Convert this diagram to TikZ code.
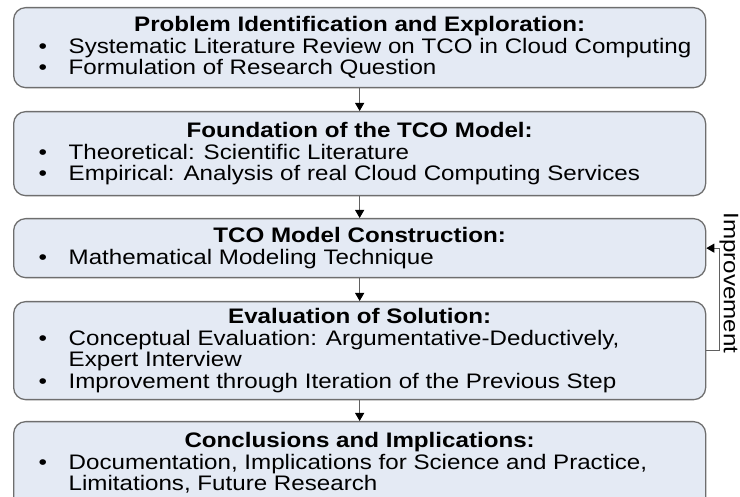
\documentclass[tikz,border=0pt]{standalone}
\usepackage{fontspec}
\setmainfont[FakeStretch=1.15]{Liberation Sans}
\usetikzlibrary{arrows.meta}
\definecolor{boxfill}{HTML}{E4EAF4}
\definecolor{boxline}{HTML}{6E6E6E}
\definecolor{conline}{HTML}{606060}
\newcommand\ttl[1]{\makebox[692pt][c]{\bfseries #1}}
\newcommand\bl[1]{\hspace*{25pt}\makebox[30pt][l]{\textbullet}#1}
\newcommand\cl[1]{\hspace*{55pt}#1}
\begin{document}
\begin{tikzpicture}[x=1pt,y=-1pt,
  stepbox/.style={draw=boxline, fill=boxfill, line width=1.3pt, rounded corners=12pt,
    minimum width=692pt, inner sep=0pt, anchor=north west,
    font=\fontsize{21}{21.5}\selectfont},
  flow/.style={draw=conline, line width=1pt, -{Triangle[width=9pt,length=8pt,color=black]}},
  lbl/.style={font=\fontsize{21}{21.5}\selectfont, inner sep=0pt}]
\useasboundingbox (0,0) rectangle (740,497);
\clip (0,0) rectangle (740,497);
\node[stepbox, minimum height=80pt] (b1) at (13,7) {\parbox{692pt}{%
  \ttl{Problem Identification and Exploration:}\\
  \bl{Systematic Literature Review on TCO in Cloud Computing}\\
  \bl{Formulation of Research Question}}};
\node[stepbox, minimum height=84pt] (b2) at (13,111) {\parbox{692pt}{%
  \ttl{Foundation of the TCO Model:}\\
  \bl{Theoretical: Scientific Literature}\\
  \bl{Empirical: Analysis of real Cloud Computing Services}}};
\node[stepbox, minimum height=59pt] (b3) at (13,218) {\parbox{692pt}{%
  \ttl{TCO Model Construction:}\\
  \bl{Mathematical Modeling Technique}}};
\node[stepbox, minimum height=98pt] (b4) at (13,301) {\parbox{692pt}{%
  \ttl{Evaluation of Solution:}\\
  \bl{Conceptual Evaluation: Argumentative-Deductively,}\\
  \cl{Expert Interview}\\
  \bl{Improvement through Iteration of the Previous Step}}};
\node[stepbox, minimum height=92pt] (b5) at (13,421) {\parbox{692pt}{%
  \ttl{Conclusions and Implications:}\\
  \bl{Documentation, Implications for Science and Practice,}\\
  \cl{Limitations, Future Research\rule[-12pt]{0pt}{12pt}}}};
\draw[flow] (b1.south) -- (b2.north);
\draw[flow] (b2.south) -- (b3.north);
\draw[flow] (b3.south) -- (b4.north);
\draw[flow] (b4.south) -- (b5.north);
\draw[flow] (b4.east) -- ++(13,0) |- (b3.east);
\node[lbl, rotate=-90] (imp) at (729,283) {Improvement};
\end{tikzpicture}
\end{document}
